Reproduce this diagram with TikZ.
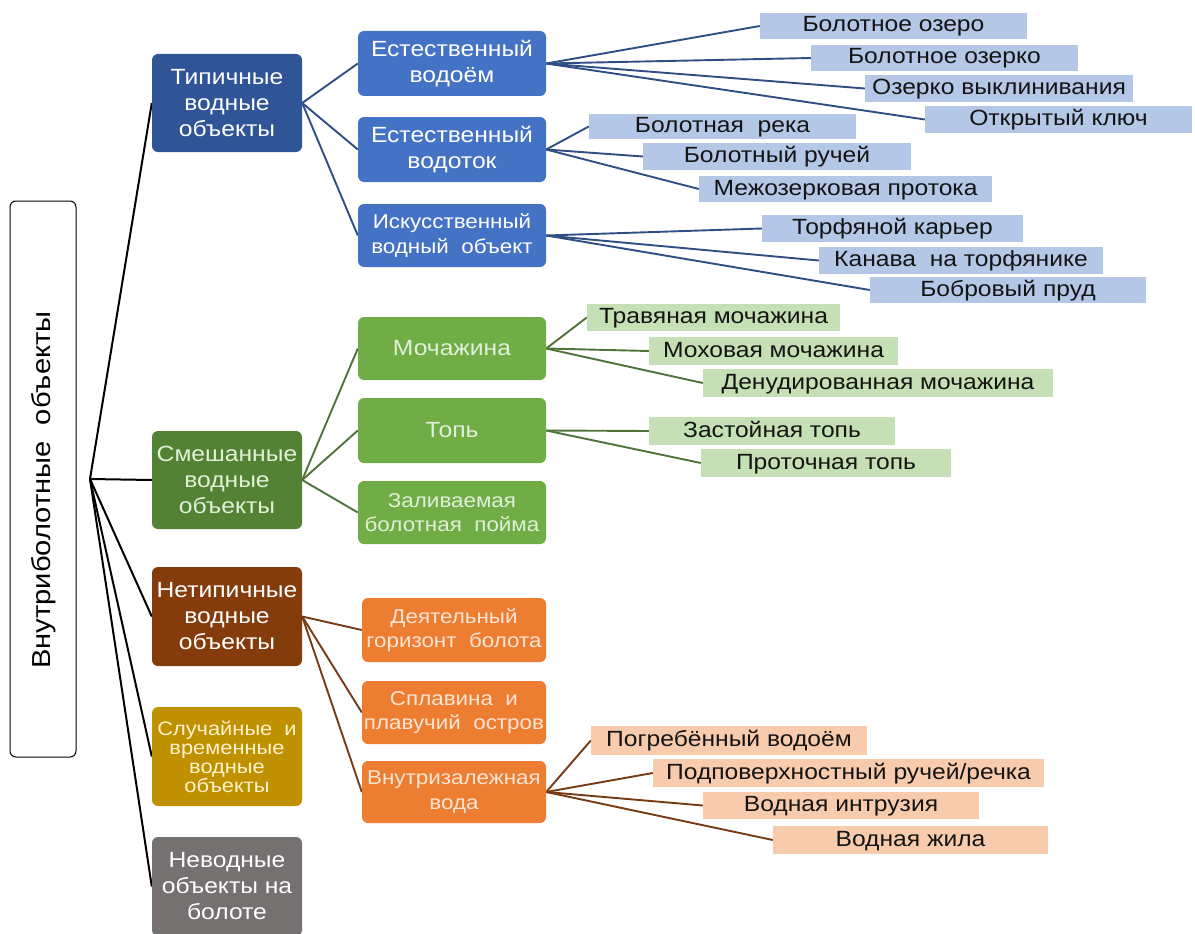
\documentclass[tikz,border=0pt]{standalone}
\usepackage{fontspec}
\setmainfont{Liberation Sans}[FakeStretch=1.12]
\usetikzlibrary{backgrounds}

% palette
\definecolor{blueDark}{HTML}{2F5597}
\definecolor{blueMid}{HTML}{4472C4}
\definecolor{blueLight}{HTML}{B4C7E7}
\definecolor{blueLine}{HTML}{2F4F84}
\definecolor{greenDark}{HTML}{548235}
\definecolor{greenMid}{HTML}{70AD47}
\definecolor{greenLight}{HTML}{C5E0B4}
\definecolor{greenLine}{HTML}{4F7338}
\definecolor{greenText}{HTML}{E2F0D9}
\definecolor{brownDark}{HTML}{843C0C}
\definecolor{orangeMid}{HTML}{ED7D31}
\definecolor{orangeLight}{HTML}{F8CBAD}
\definecolor{orangeText}{HTML}{FBE5D6}
\definecolor{brownLine}{HTML}{763A14}
\definecolor{gold}{HTML}{BF9000}
\definecolor{goldText}{HTML}{FFF2CC}
\definecolor{greyBox}{HTML}{767171}

\tikzset{
  base/.style={align=center, inner sep=0pt},
  big/.style={font=\fontsize{22}{26}\selectfont},
  small/.style={font=\fontsize{20}{24.5}\selectfont},
  catbox/.style={base, rounded corners=6pt, minimum width=150pt},
  subbox/.style={base, rounded corners=6pt, minimum width=188pt},
  leafbox/.style={base, big, text=black!92, text height=16pt, text depth=4pt},
  bluesub/.style={subbox, fill=blueMid, text=white},
  greensub/.style={subbox, fill=greenMid, text=greenText},
  orangesub/.style={subbox, small, minimum width=184pt, fill=orangeMid, text=orangeText},
  blueleaf/.style={leafbox, fill=blueLight},
  greenleaf/.style={leafbox, fill=greenLight},
  orangeleaf/.style={leafbox, fill=orangeLight},
  rootlink/.style={draw=black, line width=2pt},
  bluelink/.style={draw=blueLine, line width=1.9pt},
  greenlink/.style={draw=greenLine, line width=1.9pt},
  brownlink/.style={draw=brownLine, line width=1.9pt},
}

\begin{document}
\begin{tikzpicture}[x=1pt, y=-1pt]
\useasboundingbox (0,0) rectangle (1195,934);

% root
\node[draw=black, line width=1pt, rounded corners=6pt, minimum width=66pt, minimum height=556pt, inner sep=0pt] (root) at (43,479) {};
\node[rotate=90, font=\fontsize{26}{30}\selectfont, inner sep=0pt] (rootlabel) at (44,490) {Внутриболотные~~объекты};
\coordinate (hub) at (90,479);

% first level
\node[catbox, big, fill=blueDark, text=white, minimum height=98pt] (typ) at (227,103) {Типичные\\водные\\объекты};
\node[catbox, big, fill=greenDark, text=greenText, minimum height=98pt] (mix) at (227,480) {Смешанные\\водные\\объекты};
\node[catbox, big, fill=brownDark, text=white, minimum height=99pt] (atyp) at (227,616.5) {Нетипичные\\водные\\объекты};
\node[catbox, font=\fontsize{19.5}{19}\selectfont, fill=gold, text=goldText, minimum height=99pt] (rand) at (227,756.5) {Случайные~~и\\временные\\водные\\объекты};
\node[catbox, big, fill=greyBox, text=white, minimum height=99pt] (nonw) at (227,886.5) {Неводные\\объекты на\\болоте};

% second level
\node[bluesub, big, minimum height=65pt] (lake) at (452,63.5) {Естественный\\водоём};
\node[bluesub, big, minimum height=65pt] (stream) at (452,149.5) {Естественный\\водоток};
\node[bluesub, small, minimum height=63pt] (artif) at (452,235.5) {Искусственный\\водный~~объект};
\node[greensub, big, minimum height=63pt] (hollow) at (452,348.5) {Мочажина};
\node[greensub, big, minimum height=65pt] (quag) at (452,430.5) {Топь};
\node[greensub, small, minimum height=63pt] (flood) at (452,512.5) {Заливаемая\\болотная~~пойма};
\node[orangesub, minimum height=64pt] (active) at (454,630) {Деятельный\\горизонт~~болота};
\node[orangesub, minimum height=63pt] (mat) at (454,712.5) {Сплавина~~и\\плавучий~~остров};
\node[orangesub, minimum height=62pt] (inner) at (454,792) {Внутризалежная\\вода};

% leaves: natural water bodies
\node[blueleaf, minimum width=267pt, minimum height=26pt] (l1) at (893.5,26) {Болотное озеро};
\node[blueleaf, minimum width=267pt, minimum height=26pt] (l2) at (944.5,58) {Болотное озерко};
\node[blueleaf, minimum width=268pt, minimum height=27pt] (l3) at (999,88.5) {Озерко выклинивания};
\node[blueleaf, minimum width=267pt, minimum height=27pt] (l4) at (1058.5,119.5) {Открытый ключ};
% leaves: natural watercourses
\node[blueleaf, minimum width=267pt, minimum height=25pt] (s1) at (722.5,126.5) {Болотная~~река};
\node[blueleaf, minimum width=268pt, minimum height=27pt] (s2) at (777,156.5) {Болотный ручей};
\node[blueleaf, minimum width=293pt, minimum height=26pt] (s3) at (845.5,189) {Межозерковая протока};
% leaves: artificial
\node[blueleaf, minimum width=261pt, minimum height=27pt] (a1) at (892.5,228.5) {Торфяной карьер};
\node[blueleaf, minimum width=284pt, minimum height=27pt] (a2) at (961,260.5) {Канава~~на торфянике};
\node[blueleaf, minimum width=276pt, minimum height=26pt] (a3) at (1008,290) {Бобровый пруд};
% leaves: hollows
\node[greenleaf, minimum width=253pt, minimum height=27pt] (h1) at (713.5,317.5) {Травяная мочажина};
\node[greenleaf, minimum width=249pt, minimum height=28pt] (h2) at (773.5,351) {Моховая мочажина};
\node[greenleaf, minimum width=350pt, minimum height=28pt] (h3) at (878,383) {Денудированная мочажина};
% leaves: quagmires
\node[greenleaf, minimum width=246pt, minimum height=28pt] (q1) at (772,431) {Застойная топь};
\node[greenleaf, minimum width=250pt, minimum height=28pt] (q2) at (826,463) {Проточная топь};
% leaves: water inside the deposit
\node[orangeleaf, minimum width=276pt, minimum height=29pt] (w1) at (729,740.5) {Погребённый водоём};
\node[orangeleaf, minimum width=391pt, minimum height=28pt] (w2) at (848.5,773) {Подповерхностный ручей/речка};
\node[orangeleaf, minimum width=276pt, minimum height=27pt] (w3) at (841,805.5) {Водная интрузия};
\node[orangeleaf, minimum width=275pt, minimum height=28pt] (w4) at (910.5,840) {Водная жила};

% connectors
\begin{scope}[on background layer]
  \foreach \n in {typ,mix,atyp,rand,nonw} \draw[rootlink] (hub) -- (\n.west);
  \foreach \n in {lake,stream,artif} \draw[bluelink] (typ.east) -- (\n.west);
  \foreach \n in {l1,l2,l3,l4} \draw[bluelink] (lake.east) -- (\n.west);
  \foreach \n in {s1,s2,s3} \draw[bluelink] (stream.east) -- (\n.west);
  \foreach \n in {a1,a2,a3} \draw[bluelink] (artif.east) -- (\n.west);
  \foreach \n in {hollow,quag,flood} \draw[greenlink] (mix.east) -- (\n.west);
  \foreach \n in {h1,h2,h3} \draw[greenlink] (hollow.east) -- (\n.west);
  \foreach \n in {q1,q2} \draw[greenlink] (quag.east) -- (\n.west);
  \foreach \n in {active,mat,inner} \draw[brownlink] (atyp.east) -- (\n.west);
  \foreach \n in {w1,w2,w3,w4} \draw[brownlink] (inner.east) -- (\n.west);
\end{scope}
\end{tikzpicture}
\end{document}
